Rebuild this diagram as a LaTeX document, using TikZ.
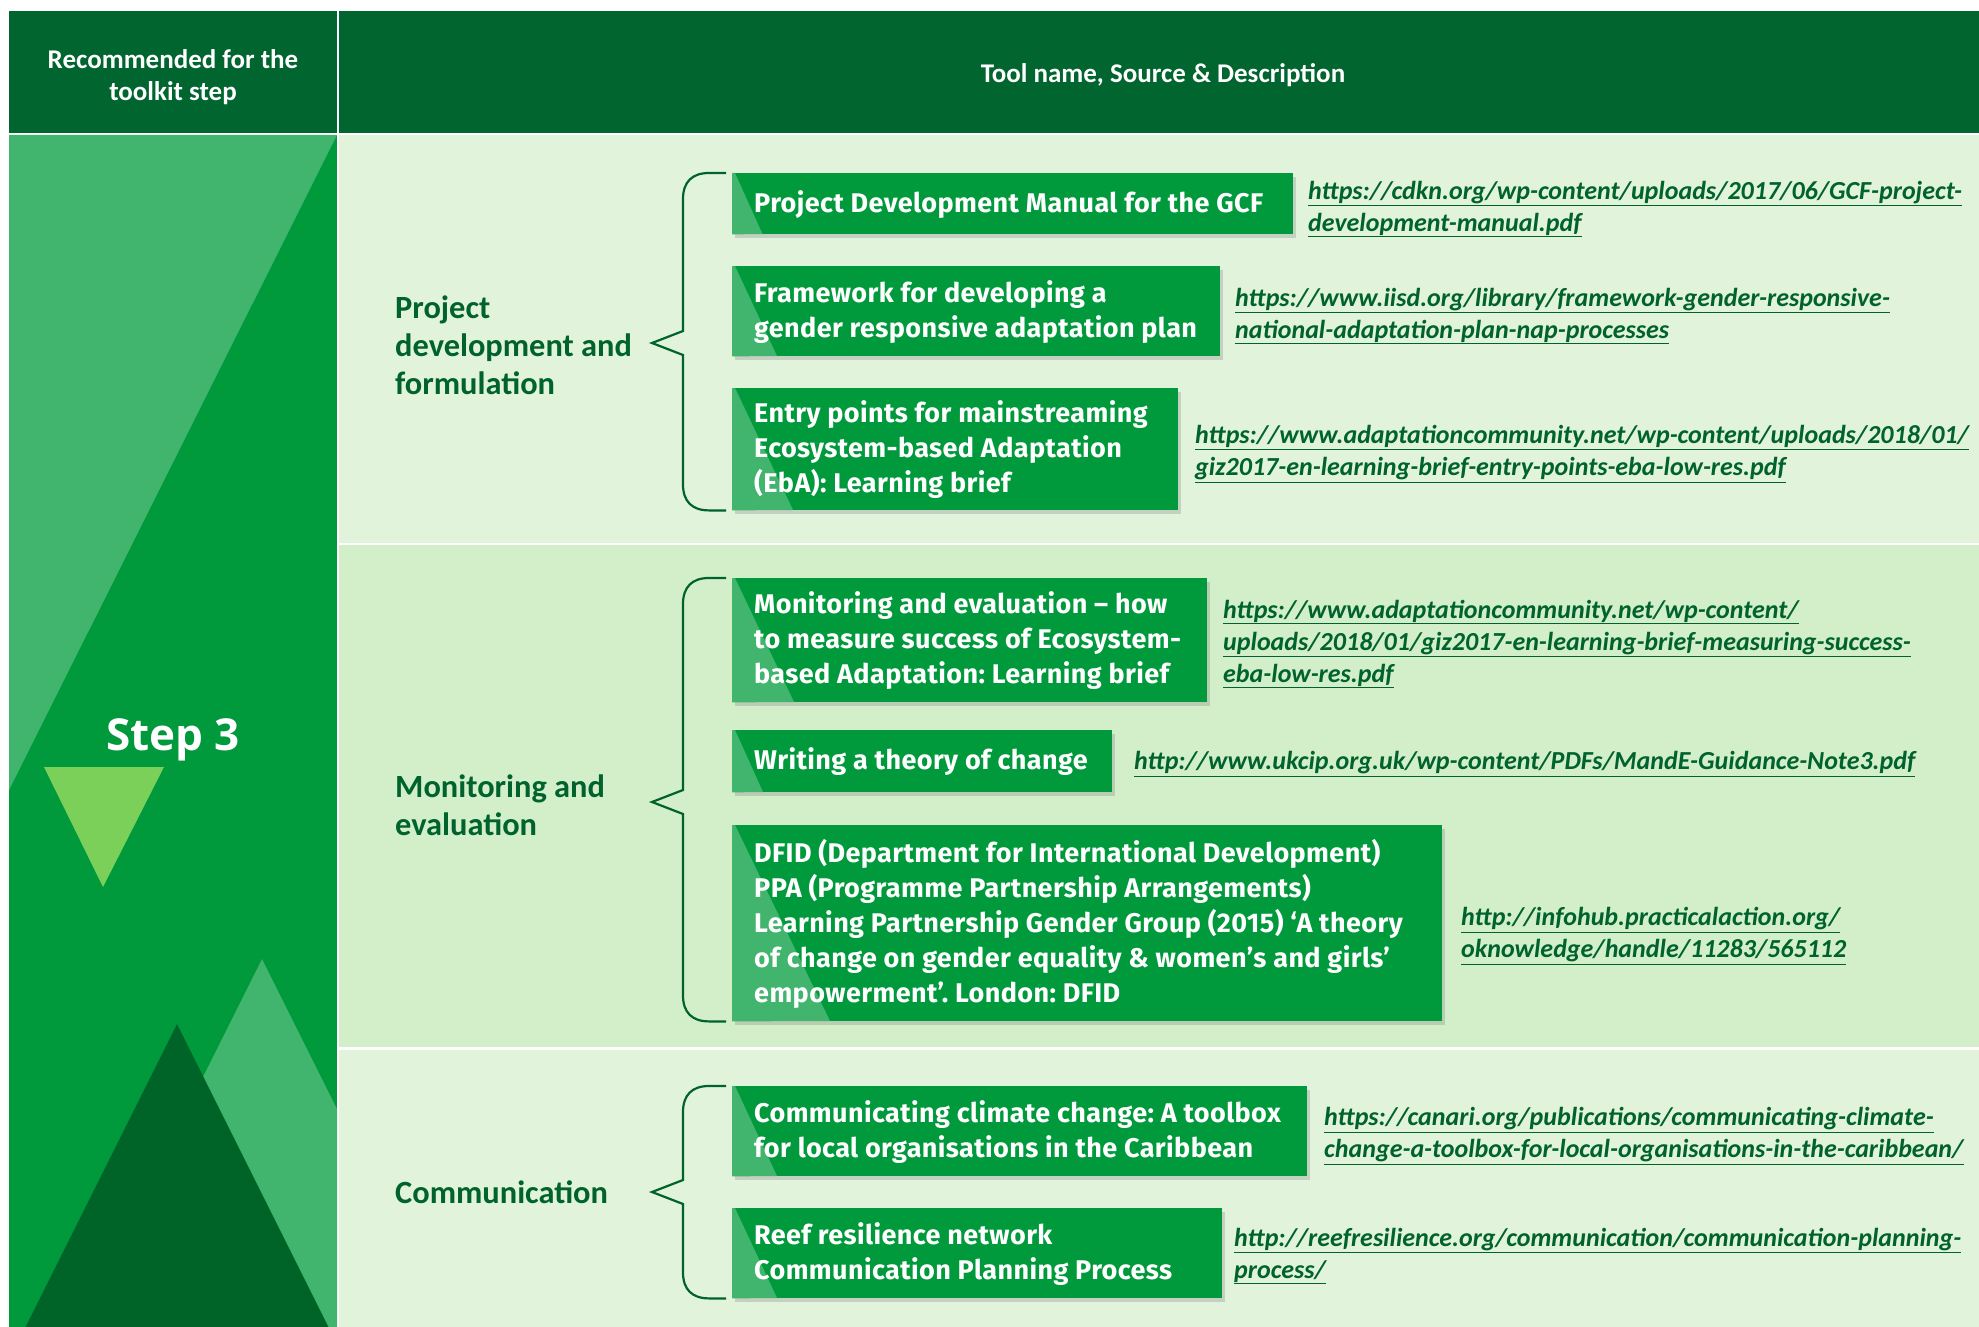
\documentclass[tikz,border=0pt]{standalone}
\usepackage{fontspec}
\setmainfont{Carlito}
\newfontfamily\stepfont{Open Sans}
\newfontfamily\boxfont[LetterSpace=1.5]{Fira Sans}
\usetikzlibrary{shadows,calc}
\definecolor{hdr}{RGB}{0,101,46}
\definecolor{mid}{RGB}{0,154,61}
\definecolor{lite}{RGB}{65,180,110}
\definecolor{lime}{RGB}{122,208,89}
\definecolor{dark}{RGB}{0,100,40}
\definecolor{bgA}{RGB}{226,243,220}
\definecolor{bgB}{RGB}{211,239,201}
\definecolor{txt}{RGB}{0,98,45}
\newcommand\lnk[1]{\underline{#1}}
\tikzset{
  toolbox/.style={fill=mid, draw=none, inner sep=0pt, anchor=north west,
    drop shadow={shadow xshift=3pt,shadow yshift=-4pt,opacity=0.3}},
  boxtext/.style={text=white, font=\boxfont\bfseries\fontsize{27}{35}\selectfont\frenchspacing, align=left, anchor=west, inner sep=0pt},
  urltext/.style={text=txt, font=\bfseries\itshape\fontsize{26}{32}\selectfont, align=left, anchor=west, inner sep=0pt},
  seclabel/.style={text=txt, font=\bfseries\fontsize{32.4}{38}\selectfont, align=left, anchor=west, inner sep=0pt},
  hdrtext/.style={text=white, font=\bfseries\fontsize{27}{32}\selectfont, align=center, inner sep=0pt},
  bracepath/.style={draw=txt, line width=2.2pt}
}
\newcommand\toolitem[5]{% name, top, bottom, right, text
  \node[toolbox, minimum width={#4-732}, minimum height={#3-#2}] (#1) at (732,#2) {};
  \fill[lite] (#1.north west) -- ++(3,0) -- ({732+0.5*(#3-#2)},#3) -- (#1.south west) -- cycle;
  \node[boxtext] (#1t) at (754,{(#2+#3)/2+1}) {#5};
}
\newcommand\bracket[4]{% name, top node, bottom node, tip y
  \coordinate (#1) at (652,#4);
  \draw[bracepath] ($(#2.north west)+(-6,0)$) -- (709,0 |- #2.north west)
    .. controls ($(692,0 |- #2.north west)$) and ($(683,9)+(0,0 |- #2.north west)$) .. ($(683,26)+(0,0 |- #2.north west)$)
    -- (683,{#4-12}) -- (#1) -- (683,{#4+12})
    -- ($(683,-26)+(0,0 |- #3.south west)$)
    .. controls ($(683,-9)+(0,0 |- #3.south west)$) and ($(692,0 |- #3.south west)$) .. (709,0 |- #3.south west)
    -- ($(#3.south west)+(-6,0)$);
}
\begin{document}
\begin{tikzpicture}[x=1pt,y=-1pt]
\useasboundingbox (0,0) rectangle (1979,1327);
\fill[white] (0,0) rectangle (1979,1327);
% header
\fill[hdr] (9,11) rectangle (337,133);
\fill[hdr] (339,11) rectangle (1979,133);
\node[hdrtext] (h1) at (173,77) {Recommended for the\\toolkit step};
\node[hdrtext] (h2) at (1163,75) {Tool name, Source \& Description};
% body backgrounds
\fill[mid] (9,135) rectangle (337,1327);
\fill[bgA] (339,135) rectangle (1979,543);
\fill[bgB] (339,545) rectangle (1979,1047);
\fill[bgA] (339,1050) rectangle (1979,1327);
% left column decoration
\begin{scope}
  \clip (9,135) rectangle (337,1327);
  \fill[lite] (9,135) -- (337,135) -- (9,790) -- cycle;
  \fill[lime] (44,767) -- (164,767) -- (103,887) -- cycle;
  \fill[lite] (262,959) -- (662,1759) -- (-138,1759) -- cycle;
  \fill[dark] (177,1024) -- (337,1344) -- (17,1344) -- cycle;
\end{scope}
\node[text=white, font=\stepfont\bfseries\fontsize{44}{50}\selectfont, inner sep=0pt] (step) at (173,740) {Step 3};
% section labels
\node[seclabel] (s1) at (395,345) {Project\\development and\\formulation};
\node[seclabel] (s2) at (395,805) {Monitoring and\\evaluation};
\node[seclabel] (s3) at (395,1192) {Communication};
% tool boxes
\toolitem{b1}{173}{234}{1293}{Project Development Manual for the GCF}
\toolitem{b2}{266}{356}{1220}{Framework for developing a\\gender responsive adaptation plan}
\toolitem{b3}{388}{510}{1178}{Entry points for mainstreaming\\Ecosystem-based Adaptation\\(EbA): Learning brief}
\toolitem{b4}{578}{702}{1207}{Monitoring and evaluation – how\\to measure success of Ecosystem-\\based Adaptation: Learning brief}
\toolitem{b5}{730}{792}{1112}{Writing a theory of change}
\toolitem{b6}{825}{1021}{1442}{DFID (Department for International Development)\\PPA (Programme Partnership Arrangements)\\Learning Partnership Gender Group (2015) ‘A theory\\of change on gender equality \& women’s and girls’\\empowerment’. London: DFID}
\toolitem{b7}{1086}{1176}{1307}{Communicating climate change: A toolbox\\for local organisations in the Caribbean}
\toolitem{b8}{1208}{1298}{1222}{Reef resilience network\\Communication Planning Process}
% urls
\node[urltext] (u1) at (1308,209) {\lnk{https://cdkn.org/wp-content/uploads/2017/06/GCF-project-}\\\lnk{development-manual.pdf}};
\node[urltext] (u2) at (1235,316) {\lnk{https://www.iisd.org/library/framework-gender-responsive-}\\\lnk{national-adaptation-plan-nap-processes}};
\node[urltext] (u3) at (1195,454) {\lnk{https://www.adaptationcommunity.net/wp-content/uploads/2018/01/}\\\lnk{giz2017-en-learning-brief-entry-points-eba-low-res.pdf}};
\node[urltext] (u4) at (1223,644) {\lnk{https://www.adaptationcommunity.net/wp-content/}\\\lnk{uploads/2018/01/giz2017-en-learning-brief-measuring-success-}\\\lnk{eba-low-res.pdf}};
\node[urltext] (u5) at (1134,764) {\lnk{http://www.ukcip.org.uk/wp-content/PDFs/MandE-Guidance-Note3.pdf}};
\node[urltext] (u6) at (1461,936) {\lnk{http://infohub.practicalaction.org/}\\\lnk{oknowledge/handle/11283/565112}};
\node[urltext] (u7) at (1324,1136) {\lnk{https://canari.org/publications/communicating-climate-}\\\lnk{change-a-toolbox-for-local-organisations-in-the-caribbean/}};
\node[urltext] (u8) at (1234,1256) {\lnk{http://reefresilience.org/communication/communication-planning-}\\\lnk{process/}};
% brackets
\bracket{tip1}{b1}{b3}{343}
\bracket{tip2}{b4}{b6}{802}
\bracket{tip3}{b7}{b8}{1192}
\end{tikzpicture}
\end{document}
